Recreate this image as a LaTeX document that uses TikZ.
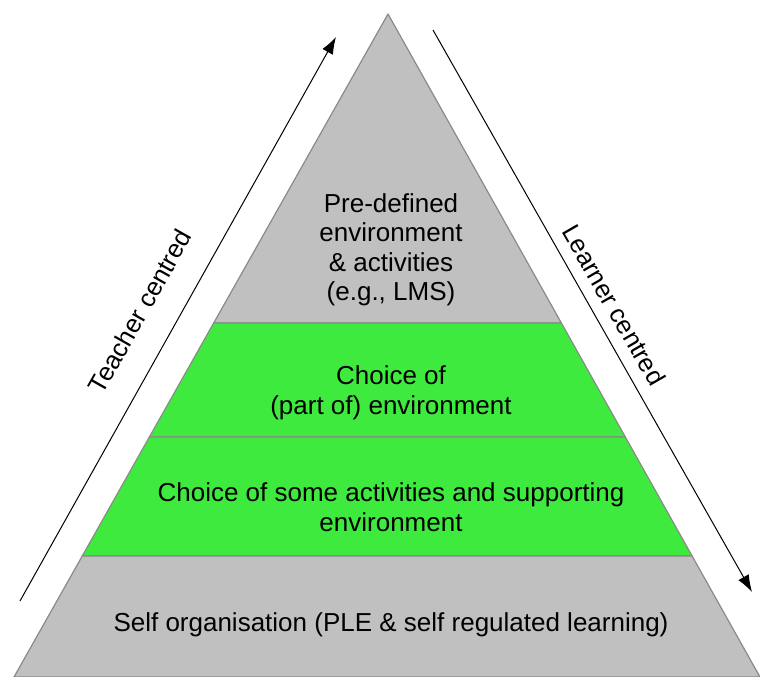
\documentclass[tikz,border=0pt]{standalone}
\usepackage{fontspec}
\setmainfont{Liberation Sans}
\usepackage{xcolor}
\usetikzlibrary{arrows.meta,calc}
\definecolor{levelgray}{HTML}{C0C0C0}
\definecolor{levelgreen}{HTML}{3FEA3F}
\definecolor{edgegray}{HTML}{8A8A8A}
\tikzset{level/.style={draw=edgegray, line width=1.2pt, line join=round},
  lbl/.style={align=center, inner sep=0pt, font=\fontsize{26}{29.5}\selectfont},
  sidelbl/.style={inner sep=0pt, font=\fontsize{25.5}{28}\selectfont}}
\newcommand{\pyrlevel}[5]{\filldraw[level, fill=#1] (#2) -- (#3) -- (#4) -- (#5) -- cycle;}

\begin{document}
\begin{tikzpicture}[x=1pt,y=-1pt]
\useasboundingbox (0,0) rectangle (760,677);
\coordinate (top) at (388,14);
\coordinate (bl) at (14,677);
\coordinate (br) at (760,677);
\coordinate (l1) at ($(top)!0.466!(bl)$);
\coordinate (r1) at ($(top)!0.466!(br)$);
\coordinate (l2) at ($(top)!0.638!(bl)$);
\coordinate (r2) at ($(top)!0.638!(br)$);
\coordinate (l3) at ($(top)!0.8175!(bl)$);
\coordinate (r3) at ($(top)!0.8175!(br)$);
% levels
\filldraw[level, fill=levelgray] (top) -- (l1) -- (r1) -- cycle;
\pyrlevel{levelgreen}{l1}{l2}{r2}{r1}
\pyrlevel{levelgreen}{l2}{l3}{r3}{r2}
\pyrlevel{levelgray}{l3}{bl}{br}{r3}
\draw (391,250) node[lbl](predef) {Pre-defined\\environment\\\& activities\\(e.g., LMS)};
\draw (391,393) node[lbl](choiceenv) {Choice of\\(part of) environment};
\draw (391,507) node[lbl](choiceact) {Choice of some activities and supporting\\environment};
\draw (391,625) node[lbl](selforg) {Self organisation (PLE \& self regulated learning)};
% side arrows
\coordinate (tstart) at (20,601);
\coordinate (tend) at (336,37);
\coordinate (lstart) at (433,30);
\coordinate (lend) at (752,592);
\draw[-{Latex[length=17pt,width=12pt]}, line width=1pt] (tstart) -- (tend);
\draw[-{Latex[length=17pt,width=12pt]}, line width=1pt] (lstart) -- (lend);
\draw (140,311) node[sidelbl, rotate=60.5](teacher) {Teacher centred};
\draw (614,305) node[sidelbl, rotate=-60](learner) {Learner centred};
\end{tikzpicture}
\end{document}
